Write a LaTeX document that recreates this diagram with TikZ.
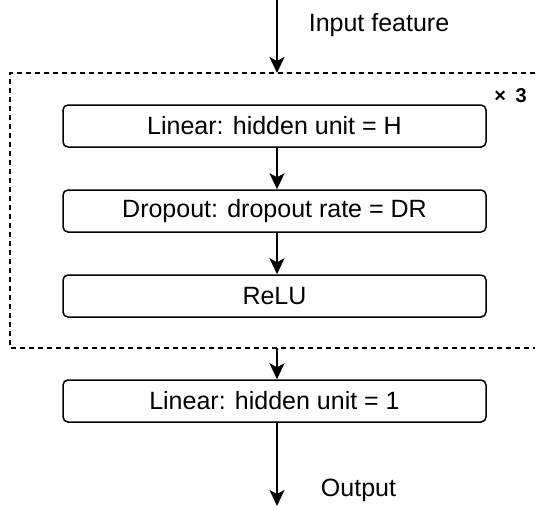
\documentclass[tikz,border=0pt]{standalone}
\usepackage{fontspec}
\setmainfont{Liberation Sans}
\usetikzlibrary{arrows.meta}
\begin{document}
\begin{tikzpicture}[x=1pt,y=-1pt,
  layer/.style={draw, line width=1.5pt, rounded corners=5pt, minimum width=423pt, minimum height=42pt, inner sep=0pt, font=\fontsize{25}{29}\selectfont},
  conn/.style={line width=1.6pt, -{Stealth[length=16pt,width=15pt,inset=4pt]}},
  lbl/.style={font=\fontsize{25}{29}\selectfont, inner sep=0pt}]
\useasboundingbox (0,0) rectangle (535,509);
\draw[line width=1.6pt, dash pattern=on 5pt off 4pt] (535,73) -- (10,73) -- (10,348) -- (535,348);
\coordinate (in) at (277,0);
\coordinate (dtop) at (277,73);
\coordinate (dbot) at (277,348);
\coordinate (out) at (277,506);
\node[layer] (l1) at (274.5,126) {Linear: hidden unit = H};
\node[layer] (l2) at (274.5,211) {Dropout: dropout rate = DR};
\node[layer] (l3) at (274.5,296) {ReLU};
\node[layer] (l4) at (274.5,401) {Linear: hidden unit = 1};
\node[lbl, anchor=base] (tin) at (379,31) {Input feature};
\node[lbl, anchor=base] (tout) at (358.5,496.5) {Output};
\node[font=\fontsize{20}{24}\selectfont\bfseries, inner sep=0pt, anchor=base east] (rep) at (527,102) {×\hspace{4pt} 3};
\draw[conn] (in) -- (dtop);
\draw[conn] (l1.south -| dtop) -- (l2.north -| dtop);
\draw[conn] (l2.south -| dtop) -- (l3.north -| dtop);
\draw[conn] (dbot) -- (l4.north -| dbot);
\draw[conn] (l4.south -| dbot) -- (out);
\end{tikzpicture}
\end{document}
